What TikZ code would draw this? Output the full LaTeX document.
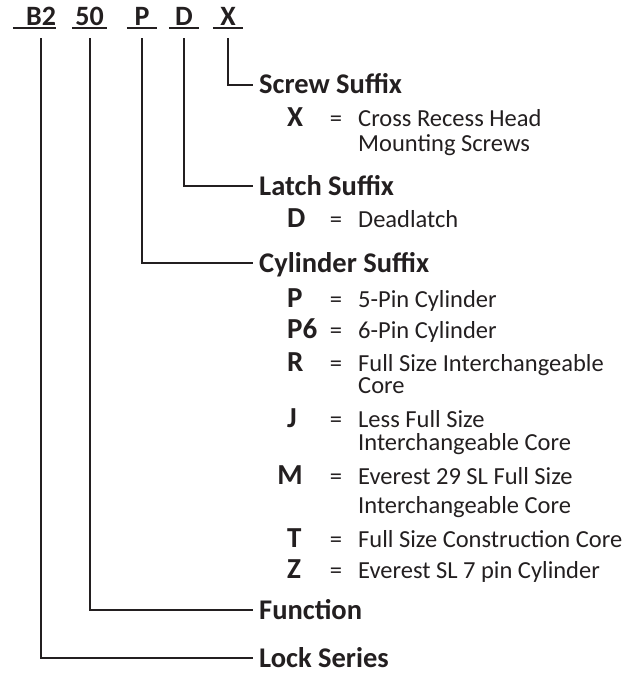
\documentclass[tikz,border=0pt]{standalone}
\usepackage{fontspec}
\setmainfont{Carlito}
\usepackage{xcolor}
\usetikzlibrary{positioning}
\definecolor{ink}{HTML}{231F20}

\begin{document}
\begin{tikzpicture}[
    x=1pt, y=-1pt,
    field/.style={font=\fontsize{28}{28}\selectfont\bfseries, text=ink, inner sep=0pt, minimum width=30pt, text height=18pt, text depth=2pt, anchor=base},
    head/.style={font=\fontsize{28.5}{28.5}\selectfont\bfseries, text=ink, inner xsep=6pt, inner ysep=0pt, text height=18pt, text depth=0pt, anchor=west},
    code/.style={font=\fontsize{29}{29}\selectfont\bfseries, text=ink, inner sep=0pt, anchor=base west},
    eq/.style={font=\fontsize{24.5}{24.5}\selectfont, text=ink, inner sep=0pt, anchor=base},
    desc/.style={font=\fontsize{24.5}{24.5}\selectfont, text=ink, inner sep=0pt, anchor=base west},
    uline/.style={draw=ink, line width=1.5pt},
    link/.style={draw=ink, line width=2pt}
]
    \useasboundingbox (0,0) rectangle (634,674);

    % Model number fields
    \node[field, minimum width=28pt] (ser) at (41,26) {B2};
    \node[field, minimum width=35pt] (fun) at (89.5,26) {50};
    \node[field] (cyl) at (142,26) {P};
    \node[field] (lat) at (184,26) {D};
    \node[field] (scr) at (228,26) {X};

    \draw[uline] ([xshift=-13pt]ser.south west) -- (ser.south east);
    \draw[uline] (fun.south west) -- (fun.south east);
    \draw[uline] (cyl.south west) -- (cyl.south east);
    \draw[uline] (lat.south west) -- (lat.south east);
    \draw[uline] (scr.south west) -- (scr.south east);

    % Headings
    \node[head] (Hscr) at (253,85) {Screw Suffix};
    \node[head] (Hlat) at (253,186) {Latch Suffix};
    \node[head] (Hcyl) at (253,263) {Cylinder Suffix};
    \node[head] (Hfun) at (253,610) {Function};
    \node[head] (Hser) at (253,658) {Lock Series};

    % Screw suffix
    \node[code] (X) at (287,127) {X};
    \node[eq] (eqX) at (336,127) {=};
    \node[desc] (dX) at (358,127) {Cross Recess Head};
    \node[desc] (dX2) at (358,151) {Mounting Screws};

    % Latch suffix
    \node[code] (D) at (287,227) {D};
    \node[eq] (eqD) at (336,227) {=};
    \node[desc] (dD) at (358,227) {Deadlatch};

    % Cylinder suffix
    \node[code] (P) at (287,307) {P};
    \node[eq] (eqP) at (336,307) {=};
    \node[desc] (dP) at (358,307) {5-Pin Cylinder};

    \node[code] (P6) at (287,338) {P6};
    \node[eq] (eqP6) at (336,338) {=};
    \node[desc] (dP6) at (358,338) {6-Pin Cylinder};

    \node[code] (R) at (287,371) {R};
    \node[eq] (eqR) at (336,371) {=};
    \node[desc] (dR) at (358,371) {Full Size Interchangeable};
    \node[desc] (dR2) at (358,393) {Core};

    \node[code] (J) at (287,427) {J};
    \node[eq] (eqJ) at (336,427) {=};
    \node[desc] (dJ) at (358,427) {Less Full Size};
    \node[desc] (dJ2) at (358,450) {Interchangeable Core};

    \node[code, anchor=base] (M) at (290,484) {M};
    \node[eq] (eqM) at (336,484) {=};
    \node[desc] (dM) at (358,484) {Everest 29 SL Full Size};
    \node[desc] (dM2) at (358,513) {Interchangeable Core};

    \node[code] (T) at (287,547) {T};
    \node[eq] (eqT) at (336,547) {=};
    \node[desc] (dT) at (358,547) {Full Size Construction Core};

    \node[code] (Z) at (287,578) {Z};
    \node[eq] (eqZ) at (336,578) {=};
    \node[desc] (dZ) at (358,578) {Everest SL 7 pin Cylinder};

    % Leaders
    \draw[link] (scr.south) ++(0,10) |- (Hscr.west);
    \draw[link] (lat.south) ++(0,10) |- (Hlat.west);
    \draw[link] (cyl.south) ++(0,10) |- (Hcyl.west);
    \draw[link] (fun.south) ++(0,10) |- (Hfun.west);
    \draw[link] (ser.south) ++(0,10) |- (Hser.west);
\end{tikzpicture}
\end{document}
